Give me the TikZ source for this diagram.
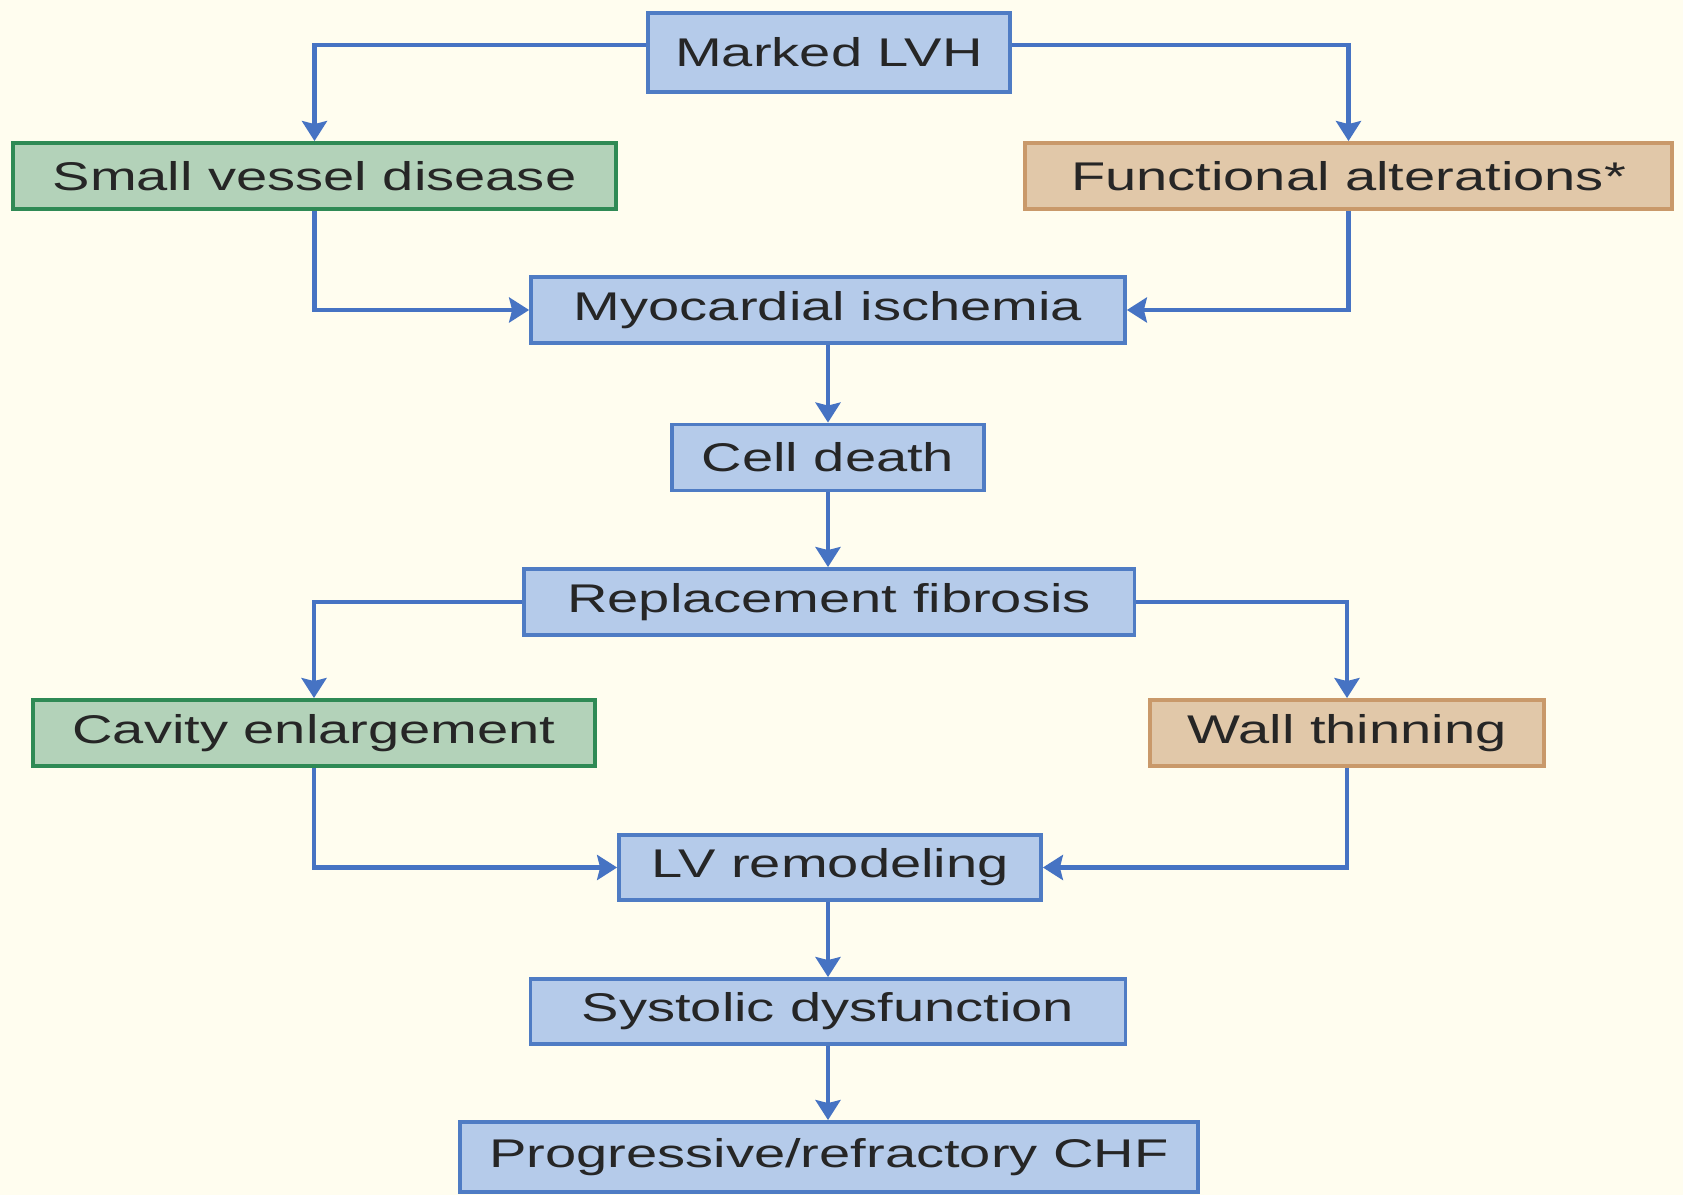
\documentclass[tikz,border=0pt]{standalone}
\usepackage{fontspec}
\setmainfont{Liberation Sans}[FakeStretch=1.4]
\usepackage{xcolor}
\usetikzlibrary{arrows.meta,positioning,calc}

\definecolor{bgcream}{HTML}{FFFDEF}
\definecolor{bluefill}{HTML}{B5CBEA}
\definecolor{blueline}{HTML}{4F7CC4}
\definecolor{greenfill}{HTML}{B3D2B9}
\definecolor{greenline}{HTML}{2F8A55}
\definecolor{tanfill}{HTML}{E1C8A9}
\definecolor{tanline}{HTML}{C9996A}
\definecolor{arrowblue}{HTML}{4673C3}
\definecolor{textgray}{HTML}{262626}

\begin{document}
\begin{tikzpicture}[x=0.02cm, y=-0.02cm,
    every node/.style={font=\fontsize{22.8pt}{27pt}\selectfont, text=textgray, line width=2.2pt, inner sep=0pt},
    bluebox/.style={draw=blueline, fill=bluefill, minimum height=1.32cm},
    greenbox/.style={draw=greenline, fill=greenfill, minimum height=1.32cm},
    tanbox/.style={draw=tanline, fill=tanfill, minimum height=1.32cm},
    flow/.style={draw=arrowblue, line width=2.3pt, -{Stealth[length=0.4cm, width=0.5cm, inset=0.06cm]}}]
  \useasboundingbox (0,0) rectangle (1683,1195);
  \fill[bgcream] (0,0) rectangle (1683,1195);

  % boxes
  \node[bluebox, minimum width=7.24cm, minimum height=1.58cm] (lvh) at (829,52.5) {Marked LVH};
  \node[greenbox, minimum width=12.06cm] (svd) at (314.5,176) {Small vessel disease};
  \node[tanbox, minimum width=12.94cm] (fa) at (1348.5,176) {Functional alterations*};
  \node[bluebox, minimum width=11.88cm] (mi) at (828,310) {Myocardial ischemia};
  \node[bluebox, minimum width=6.24cm] (cd) at (828,457.5) {Cell death};
  \node[bluebox, minimum width=12.22cm] (rf) at (829,602) {Replacement fibrosis};
  \node[greenbox, minimum width=11.24cm] (ce) at (314,733) {Cavity enlargement};
  \node[tanbox, minimum width=7.88cm] (wt) at (1347,733) {Wall thinning};
  \node[bluebox, minimum width=8.44cm, minimum height=1.3cm] (lvr) at (830,867.5) {LV remodeling};
  \node[bluebox, minimum width=11.9cm, minimum height=1.3cm] (sd) at (828,1011.5) {Systolic dysfunction};
  \node[bluebox, minimum width=14.76cm, minimum height=1.4cm] (chf) at (829,1157) {Progressive/refractory CHF};

  % connectors
  \draw[flow] ([yshift=0.15cm]lvh.west) -| (svd.north);
  \draw[flow] ([yshift=0.15cm]lvh.east) -| (fa.north);
  \draw[flow] (svd.south) |- (mi.west);
  \draw[flow] (fa.south) |- (mi.east);
  \draw[flow] (mi.south) -- (mi.south |- cd.north);
  \draw[flow] (cd.south) -- (cd.south |- rf.north);
  \draw[flow] (rf.west) -| (ce.north);
  \draw[flow] (rf.east) -| (wt.north);
  \draw[flow] (ce.south) |- (lvr.west);
  \draw[flow] (wt.south) |- (lvr.east);
  \draw[flow] (sd.north |- lvr.south) -- (sd.north);
  \draw[flow] (sd.south) -- (sd.south |- chf.north);
\end{tikzpicture}
\end{document}
